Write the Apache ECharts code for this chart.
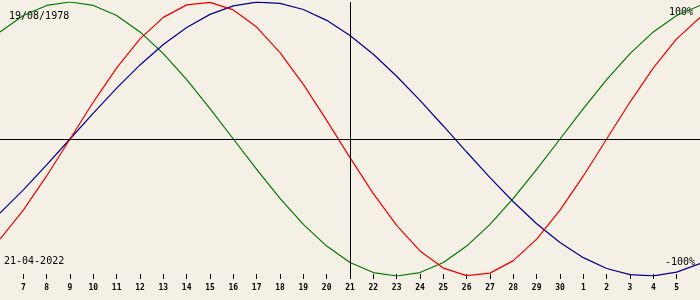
<!DOCTYPE html>
<html>
<head>
<meta charset="utf-8">
<script src="https://cdn.jsdelivr.net/npm/echarts@6/dist/echarts.min.js"></script>
<style>
html,body{margin:0;padding:0;background:#F4F0E5;}
#c{width:700px;height:300px;}
</style>
</head>
<body>
<div id="c"></div>
<script>
var days = ['6','7','8','9','10','11','12','13','14','15','16','17','18','19','20','21','22','23','24','25','26','27','28','29','30','1','2','3','4','5','6'];
var physical = [-0.7308,-0.5196,-0.2698,0,0.2698,0.5196,0.7308,0.8879,0.9791,0.9977,0.9423,0.8170,0.6311,0.3984,0.1362,-0.1362,-0.3984,-0.6311,-0.8170,-0.9423,-0.9977,-0.9791,-0.8879,-0.7308,-0.5196,-0.2698,0,0.2698,0.5196,0.7308,0.8879];
var emotional = [0.7818,0.9010,0.9749,1,0.9749,0.9010,0.7818,0.6235,0.4339,0.2225,0,-0.2225,-0.4339,-0.6235,-0.7818,-0.9010,-0.9749,-1,-0.9749,-0.9010,-0.7818,-0.6235,-0.4339,-0.2225,0,0.2225,0.4339,0.6235,0.7818,0.9010,0.9749];
var intellectual = [-0.5406,-0.3717,-0.1893,0,0.1893,0.3717,0.5406,0.6901,0.8146,0.9096,0.9718,0.9989,0.9898,0.9450,0.8660,0.7557,0.6182,0.4582,0.2817,0.0951,-0.0951,-0.2817,-0.4582,-0.6182,-0.7557,-0.8660,-0.9450,-0.9898,-0.9989,-0.9718,-0.9096];
var todayLabel = '21';
var todayIndex = 15;
var birthText = '19/08/1978';
var dateText = '21-04-2022';
var topText = '100%';
var bottomText = '-100%';

var chart = echarts.init(document.getElementById('c'), null, {renderer:'canvas'});
var font = '"DejaVu Sans Mono", monospace';
function lineSeries(name, data, color, extra) {
  var s = {
    name: name, type: 'line', data: data, smooth: false,
    symbol: 'none', lineStyle: {color: color, width: 1.2}, animation: false, silent: true
  };
  if (extra) s.markLine = extra;
  return s;
}
chart.setOption({
  backgroundColor: '#F4F0E5',
  animation: false,
  grid: {left: 0, right: 0, top: 2, bottom: 24},
  xAxis: {
    type: 'category', data: days, boundaryGap: false, offset: -2,
    axisLine: {show: false, onZero: false},
    axisTick: {show: true, length: 5, lineStyle: {color: '#000', width: 1},
      interval: function (i) { return i > 0 && i < days.length - 1; }},
    axisLabel: {show: true, margin: 10, color: '#000', fontFamily: font, fontSize: 8, fontWeight: 'bold',
      interval: function (i) { return i > 0 && i < days.length - 1; }},
    splitLine: {show: false}
  },
  yAxis: {
    type: 'value', min: -1, max: 1, show: false, splitLine: {show: false}
  },
  series: [
    lineSeries('Emotional', emotional, '#007800', {
      silent: true, symbol: 'none', label: {show: false},
      lineStyle: {color: '#000', type: 'solid', width: 1},
      data: [{yAxis: 0}, {xAxis: todayIndex}]
    }),
    lineSeries('Intellectual', intellectual, '#00008C'),
    lineSeries('Physical', physical, '#EE0000')
  ],
  graphic: [
    {type: 'text', left: 9, top: 11, style: {text: birthText, font: '10px ' + font, fill: '#000'}},
    {type: 'text', right: 7, top: 7, style: {text: topText, font: '10px ' + font, fill: '#000'}},
    {type: 'text', left: 4, top: 256, style: {text: dateText, font: '10px ' + font, fill: '#000'}},
    {type: 'text', right: 5, top: 257, style: {text: bottomText, font: '10px ' + font, fill: '#000'}}
  ]
});
</script>
</body>
</html>
